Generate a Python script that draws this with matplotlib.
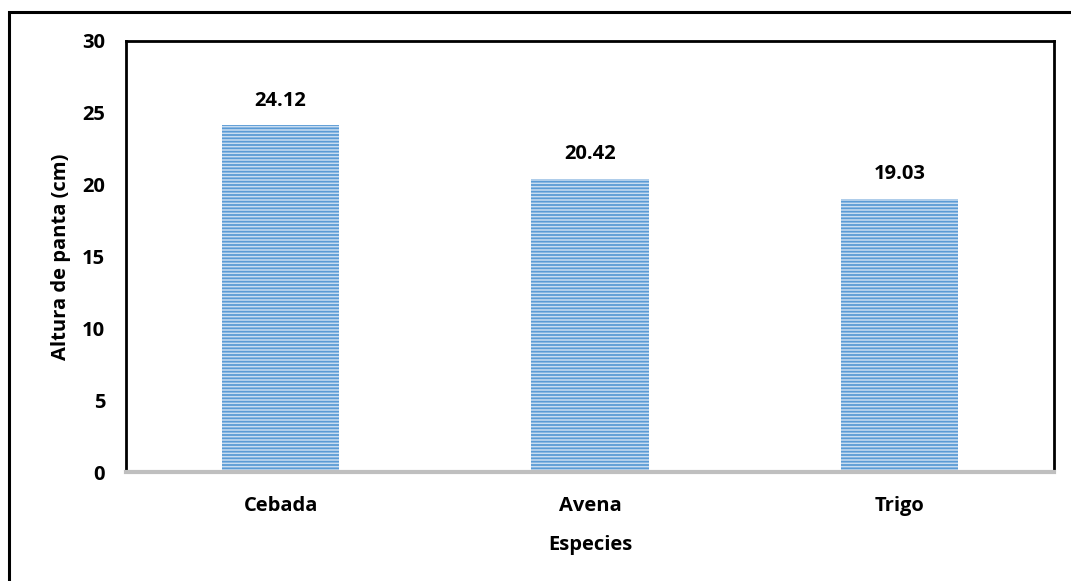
import matplotlib.pyplot as plt
from matplotlib.patches import Rectangle

especies = ['Cebada', 'Avena', 'Trigo']
altura = [24.12, 20.42, 19.03]
etiquetas = ['24.12', '20.42', '19.03']
yticks = [0, 5, 10, 15, 20, 25, 30]

plt.rcParams['font.family'] = ['Open Sans', 'DejaVu Sans']
plt.rcParams['font.weight'] = 'bold'
plt.rcParams['hatch.linewidth'] = 1.3

W, H = 1071, 581
fs = 14.5
fig = plt.figure(figsize=(W / 100, H / 100), dpi=100)
ax = fig.add_axes([126 / W, 1 - 472 / H, (1054 - 126) / W, (472 - 41) / H])

x = range(len(especies))
bars = ax.bar(x, altura, width=0.38, color='#C9DDF1', edgecolor='#5B9BD5',
              linewidth=0, hatch='-----', zorder=2)
for b, t in zip(bars, etiquetas):
    ax.text(b.get_x() + b.get_width() / 2, b.get_height() + 1.0, t,
            ha='center', va='bottom', fontsize=fs, fontweight='bold')

ax.set_xlim(-0.5, 2.5)
ax.set_ylim(0, 30)
ax.set_yticks(yticks)
ax.set_xticks(list(x))
ax.set_xticklabels(especies, fontsize=fs, fontweight='bold')
ax.tick_params(axis='y', labelsize=fs, length=0, pad=15)
ax.tick_params(axis='x', length=0, pad=17)
for s in ['left', 'top', 'right']:
    ax.spines[s].set_color('black')
    ax.spines[s].set_linewidth(2)
ax.spines['bottom'].set_color('#BFBFBF')
ax.spines['bottom'].set_linewidth(3)
ax.spines['bottom'].set_zorder(3)

ax.set_ylabel('Altura de panta (cm)', fontsize=fs, fontweight='bold')
ax.yaxis.set_label_coords(-0.059, 0.5)
ax.set_xlabel('Especies', fontsize=fs, fontweight='bold', labelpad=14)

# marco exterior
fig.patches.append(Rectangle((9 / W, -0.1), 1.2, 1 - 12 / H + 0.1,
                             transform=fig.transFigure, fill=False,
                             edgecolor='black', linewidth=2.2))

fig.savefig('out.png', dpi=100)
